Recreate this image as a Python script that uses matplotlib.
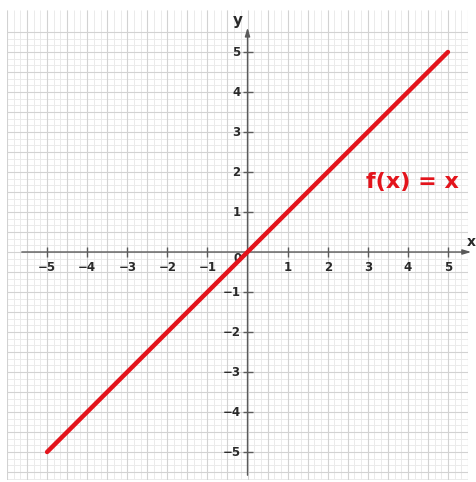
import numpy as np
import matplotlib
matplotlib.use("Agg")
import matplotlib.pyplot as plt

# Function data: f(x) = x on [-5, 5]
x_vals = [-5, 5]
y_vals = [-5, 5]
x_ticks = [-5, -4, -3, -2, -1, 1, 2, 3, 4, 5]
y_ticks = [-5, -4, -3, -2, -1, 1, 2, 3, 4, 5]
label_text = "f(x) = x"

fig = plt.figure(figsize=(4.77, 4.82), dpi=100)
ax = fig.add_axes([7 / 477, 2 / 482, 461 / 477, 470 / 482])
xmin, xmax, ymin, ymax = -6.0, 5.5, -5.7, 6.05
ax.set_xlim(xmin, xmax)
ax.set_ylim(ymin, ymax)
for s in ax.spines.values():
    s.set_visible(False)
ax.set_xticks([])
ax.set_yticks([])

# graph-paper grid: light lines every 1/6, darker every 1/2
minor = np.arange(-36, 34) / 6.0
major = np.arange(-12, 12) / 2.0
ax.vlines(minor, ymin, ymax, color="#ebebeb", lw=0.7, zorder=0)
ax.hlines(minor, xmin, xmax, color="#ebebeb", lw=0.7, zorder=0)
ax.vlines(major[(major >= xmin) & (major <= xmax)], ymin, ymax, color="#d2d2d2", lw=0.8, zorder=1)
ax.hlines(major[(major >= ymin) & (major <= ymax)], xmin, xmax, color="#d2d2d2", lw=0.8, zorder=1)

# coordinate axes with arrows
axis_col = "#5a5a5a"
ax.annotate("", xy=(5.65, 0), xytext=(-5.7, 0),
            arrowprops=dict(arrowstyle="-|>,head_length=0.5,head_width=0.15", color=axis_col, lw=1.0),
            annotation_clip=False, zorder=3)
ax.annotate("", xy=(0, 5.68), xytext=(0, -5.65),
            arrowprops=dict(arrowstyle="-|>,head_length=0.5,head_width=0.15", color=axis_col, lw=1.0),
            annotation_clip=False, zorder=3)

# tick marks
ax.plot(x_ticks, [0] * len(x_ticks), linestyle="none", marker="|", ms=7, mew=1.0, color=axis_col, zorder=3)
ax.plot([0] * len(y_ticks), y_ticks, linestyle="none", marker="_", ms=7, mew=1.0, color=axis_col, zorder=3)

# tick labels
lab_kw = dict(fontsize=8.5, fontweight="bold", color="#2a2a2a", family="DejaVu Sans", zorder=4)
for t in x_ticks:
    s = f"\u2212{abs(t)}" if t < 0 else str(t)
    ax.text(t, -0.38, s, ha="center", va="center", **lab_kw)
for t in y_ticks:
    s = f"\u2212{abs(t)}" if t < 0 else str(t)
    ax.text(-0.17, t, s, ha="right", va="center", **lab_kw)
ax.text(-0.25, -0.17, "0", ha="center", va="center", **lab_kw)

# axis names
ax.text(-0.25, 5.8, "y", ha="center", va="center", fontsize=11, fontweight="bold",
        color="#2a2a2a", zorder=4)
ax.text(5.7, 0.25, "x", ha="right", va="center", fontsize=10, fontweight="bold",
        color="#2a2a2a", zorder=4, clip_on=False)

# the function line
ax.plot(x_vals, y_vals, color="#e3141c", lw=3.2, solid_capstyle="round", zorder=5)
ax.text(4.12, 1.75, label_text, ha="center", va="center", fontsize=16, fontweight="bold",
        color="#e3141c", family="DejaVu Sans", zorder=5)

fig.savefig("out.png", dpi=100)
